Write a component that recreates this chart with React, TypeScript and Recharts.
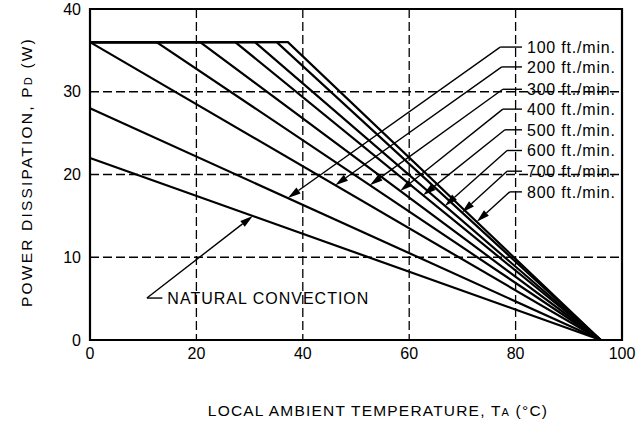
import React from 'react';
import { LineChart, Line, XAxis, YAxis, CartesianGrid, ReferenceArea, ReferenceLine } from 'recharts';

// derating curves: flat at max power until the knee, then straight down to zero
const airflow = [
    'NATURAL CONVECTION',
    '100 ft./min.',
    '200 ft./min.',
    '300 ft./min.',
    '400 ft./min.',
    '500 ft./min.',
    '600 ft./min.',
    '700 ft./min.',
    '800 ft./min.',
];
const powerAtZero = [22, 28, 36, 36, 36, 36, 36, 36, 36];
const kneeTemp = [0, 0, 0, 12.5, 20.7, 27.3, 31, 35.1, 37.2];
const maxPower = 36;
const zeroPowerTemp = 96;

const xTicks = [0, 20, 40, 60, 80, 100];
const yTicks = [0, 10, 20, 30, 40];

// callouts (data units): label line height, elbow, arrow tip on the curve
const labelY = [5.07, 35.4, 33.0, 30.3, 27.9, 25.4, 22.9, 20.4, 17.9];
const elbowX = [10.7, 77.1, 77.4, 77.6, 77.6, 78.0, 78.4, 78.4, 78.9];
const labelEndX = [13.6, 81.2, 81.2, 81.2, 81.2, 81.2, 81.2, 81.2, 81.2];
const arrowX = [30.6, 37.2, 46.1, 52.6, 58.3, 62.6, 66.7, 69.9, 72.7];
const arrowY = [15.0, 17.15, 18.7, 18.7, 18.0, 17.5, 16.2, 15.4, 14.3];

const FONT = '"Liberation Sans", Arial, Helvetica, sans-serif';

const curves = airflow.map((name, i) => {
    const pts = [{ t: 0, p: powerAtZero[i] }];
    if (kneeTemp[i] > 0) pts.push({ t: kneeTemp[i], p: maxPower });
    pts.push({ t: zeroPowerTemp, p: 0 });
    return { name, pts };
});

const ArrowShape = (props: any) => {
    const { x1, y1, x2, y2 } = props;
    const a = Math.atan2(y2 - y1, x2 - x1);
    const len = 13;
    const w = 3.6;
    const bx = x2 - len * Math.cos(a);
    const by = y2 - len * Math.sin(a);
    const px = -Math.sin(a) * w;
    const py = Math.cos(a) * w;
    return (
        <g>
            <line x1={x1} y1={y1} x2={bx} y2={by} stroke="#000" strokeWidth={1.4} />
            <polygon points={`${x2},${y2} ${bx + px},${by + py} ${bx - px},${by - py}`} fill="#000" />
        </g>
    );
};

const makeLabelShape = (text: string, spacing: number) => (props: any) => {
    const { x1, y1, x2, y2 } = props;
    return (
        <g>
            <line x1={x1} y1={y1} x2={x2} y2={y2} stroke="#000" strokeWidth={1.4} />
            <text x={x2 + 5} y={y2} dy="0.36em" fontSize={16} letterSpacing={spacing} fontFamily={FONT} fill="#000">
                {text}
            </text>
        </g>
    );
};

const YTitle = () => (
    <text
        x={26}
        y={172}
        transform="rotate(-90 26 172)"
        textAnchor="middle"
        dy="0.36em"
        fontSize={15.5}
        letterSpacing={2.2}
        fontFamily={FONT}
        fill="#000"
    >
        <tspan>POWER DISSIPATION, P</tspan>
        <tspan fontSize={11}>D</tspan>
        <tspan> (W)</tspan>
    </text>
);

const XTitle = () => (
    <text x={378} y={410} textAnchor="middle" dy="0.36em" fontSize={15.5} letterSpacing={1.2} fontFamily={FONT} fill="#000">
        <tspan>LOCAL AMBIENT TEMPERATURE, T</tspan>
        <tspan fontSize={11}>A</tspan>
        <tspan> (°C)</tspan>
    </text>
);

export default function App() {
    return (
        <div style={{ position: 'absolute', left: 0, top: 0, background: '#fff' }}>
            <LineChart width={642} height={421} margin={{ top: 9, right: 20, bottom: 0, left: 0 }}>
                <CartesianGrid stroke="#000" strokeWidth={1.3} strokeDasharray="9 4" />
                <XAxis
                    type="number"
                    dataKey="t"
                    domain={[0, 100]}
                    ticks={xTicks}
                    height={81}
                    tickSize={0}
                    tickMargin={8}
                    axisLine={false}
                    tick={{ fill: '#000', fontSize: 16, fontFamily: FONT }}
                    label={<XTitle />}
                />
                <YAxis
                    type="number"
                    domain={[0, 40]}
                    ticks={yTicks}
                    width={90}
                    tickSize={0}
                    tickMargin={9}
                    axisLine={false}
                    tick={{ fill: '#000', fontSize: 16, fontFamily: FONT }}
                    label={<YTitle />}
                />
                <ReferenceArea x1={0} x2={100} y1={0} y2={40} fill="none" fillOpacity={0} stroke="#000" strokeWidth={2.2} />
                {curves.map((c) => (
                    <Line
                        key={c.name}
                        data={c.pts}
                        dataKey="p"
                        name={c.name}
                        stroke="#000"
                        strokeWidth={2.2}
                        dot={false}
                        activeDot={false}
                        isAnimationActive={false}
                    />
                ))}
                {airflow.map((name, i) => (
                    <ReferenceLine
                        key={'lbl' + name}
                        segment={[{ x: elbowX[i], y: labelY[i] }, { x: labelEndX[i], y: labelY[i] }]}
                        shape={makeLabelShape(name, i === 0 ? 1 : 0.8)}
                    />
                ))}
                {airflow.map((name, i) => (
                    <ReferenceLine
                        key={'arr' + name}
                        segment={[{ x: elbowX[i], y: labelY[i] }, { x: arrowX[i], y: arrowY[i] }]}
                        shape={ArrowShape}
                    />
                ))}
            </LineChart>
        </div>
    );
}
